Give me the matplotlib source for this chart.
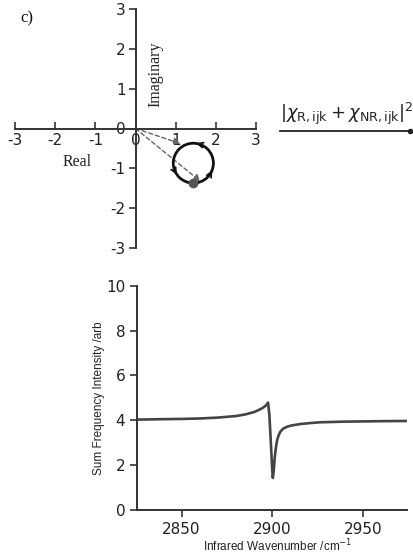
import matplotlib
matplotlib.use("Agg")
import matplotlib.pyplot as plt
from matplotlib.patches import Circle
import numpy as np

# ---- data ----
axis_ticks = [-3, -2, -1, 0, 1, 2, 3]
circle_center = (1.44, -0.87)
circle_radius = 0.50
nr_point = (1.44, -1.37)
vec_ends = [(1.12, -0.38), (1.62, -1.33)]
arrow_angles_deg = [75, 208, 332]  # chevrons on circle (counter-clockwise travel)

wavenumber = [2826, 2840, 2850, 2860, 2870, 2880, 2885, 2890, 2893, 2895,
              2896.5, 2897.6, 2898.3, 2898.8, 2899.3, 2899.8, 2900.2, 2900.7,
              2901.3, 2902, 2902.6, 2903.5, 2904.4, 2906, 2908, 2910, 2915,
              2920, 2926, 2940, 2950, 2960, 2974]
intensity = [4.03, 4.05, 4.06, 4.08, 4.12, 4.19, 4.26, 4.37, 4.48, 4.57,
             4.67, 4.79, 4.25, 3.5, 2.7, 1.9, 1.43, 1.75,
             2.38, 2.85, 3.12, 3.35, 3.5, 3.63, 3.71, 3.76, 3.83,
             3.87, 3.91, 3.94, 3.95, 3.96, 3.97]
x_ticks = [2850, 2900, 2950]
y_ticks = [0, 2, 4, 6, 8, 10]

axc = '#333333'
lab_font = ['Liberation Sans', 'DejaVu Sans']

fig = plt.figure(figsize=(4.13, 5.59), dpi=100)

# ---- top: complex plane ----
ax = fig.add_axes([15/413, 1-248/559, 241/413, 239/559])
ax.set_xlim(-3, 3)
ax.set_ylim(-3, 3)
for s in ['top', 'right']:
    ax.spines[s].set_visible(False)
ax.spines['left'].set_position(('data', 0))
ax.spines['bottom'].set_position(('data', 0))
for s in ['left', 'bottom']:
    ax.spines[s].set_color(axc)
    ax.spines[s].set_linewidth(1.4)
ax.set_xticks(axis_ticks)
ax.set_yticks(axis_ticks)
ax.tick_params(axis='x', direction='in', length=5, width=1.2, color=axc,
               labelsize=11, labelcolor='#222222', pad=3)
ax.tick_params(axis='y', direction='out', length=5, width=1.2, color=axc,
               labelsize=11, labelcolor='#222222', pad=2)
ax.set_xticklabels([str(t) for t in axis_ticks])
ax.set_yticklabels([str(t) for t in axis_ticks])
ax.patch.set_alpha(0)

ax.add_patch(Circle(circle_center, circle_radius, fill=False, lw=2, ec='#111111', zorder=3))
for a in arrow_angles_deg:
    th = np.deg2rad(a)
    px = circle_center[0] + circle_radius*np.cos(th)
    py = circle_center[1] + circle_radius*np.sin(th)
    tx, ty = -np.sin(th), np.cos(th)
    ax.annotate('', xy=(px + 0.06*tx, py + 0.06*ty), xytext=(px - 0.02*tx, py - 0.02*ty),
                arrowprops=dict(arrowstyle='->', color='#111111', lw=1.3,
                                mutation_scale=9, shrinkA=0, shrinkB=0), zorder=4)
for (ex, ey) in vec_ends:
    ax.annotate('', xy=(ex, ey), xytext=(0, 0),
                arrowprops=dict(arrowstyle='-|>', color='#666666', lw=1.0,
                                linestyle=(0, (3, 2)), mutation_scale=10,
                                shrinkA=0, shrinkB=0), zorder=2)
ax.plot([nr_point[0]], [nr_point[1]], 'o', color='#555555', ms=6, zorder=5)

ax.text(-1.45, -0.83, 'Real', family='Liberation Serif', fontsize=11.5,
        ha='center', va='center', color='#222222')
ax.text(0.5, 1.35, 'Imaginary', family='Liberation Serif', fontsize=11.5,
        rotation=90, ha='center', va='center', color='#222222')

fig.text(20/413, 1-18/559, 'c)', family='Liberation Serif', fontsize=12,
         ha='left', va='center', color='#111111')

# chi label with line
fig.text(347/413, 1-114/559, r'$|\chi_{\mathrm{R,ijk}}+\chi_{\mathrm{NR,ijk}}|^2$',
         fontsize=13, ha='center', va='center', color='#222222',
         math_fontfamily='dejavusans')
fig.add_artist(plt.Line2D([280/413, 410/413], [1-131/559, 1-131/559],
                          color='#222222', lw=1.3, transform=fig.transFigure))
fig.add_artist(plt.Line2D([410/413], [1-131/559], marker='o', ms=3,
                          color='#222222', transform=fig.transFigure))

# ---- bottom: spectrum ----
ax2 = fig.add_axes([137/413, 1-510/559, 270/413, 224.3/559])
ax2.plot(wavenumber, intensity, color='#444444', lw=1.9)
ax2.set_xlim(2825.5, 2974)
ax2.set_ylim(0, 10)
for s in ['top', 'right']:
    ax2.spines[s].set_visible(False)
for s in ['left', 'bottom']:
    ax2.spines[s].set_color(axc)
    ax2.spines[s].set_linewidth(1.4)
ax2.set_xticks(x_ticks)
ax2.set_yticks(y_ticks)
ax2.tick_params(length=5, width=1.2, color=axc, labelsize=11, labelcolor='#222222')
ax2.set_xlabel('Infrared Wavenumber /cm$^{-1}$', family=lab_font, fontsize=8.5,
               color='#222222', labelpad=3)
ax2.xaxis.set_label_coords(0.52, -0.125)
ax2.set_ylabel('Sum Frequency Intensity /arb', family=lab_font, fontsize=8.5,
               color='#222222', labelpad=1)

fig.savefig('out.png', dpi=100)
